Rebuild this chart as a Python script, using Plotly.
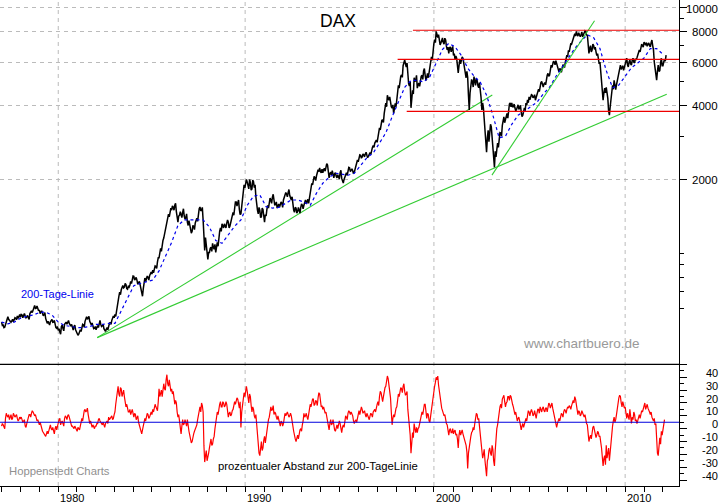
import numpy as np
import plotly.graph_objects as go

years = list(range(1977, 2013))

# DAX close, 12 readings per chart year
dax_rows = [
 [526,512,502,526,553,535,526,540,535,545,557,553],
 [550,562,560,558,553,548,570,585,592,615,600,595],
 [590,578,572,565,545,520,522,528,540,526,510,497],
 [487,480,505,495,515,526,526,520,507,497,505,490],
 [478,470,490,507,512,530,553,545,530,512,505,497],
 [490,510,526,515,508,495,482,500,510,525,535,557],
 [565,590,650,696,712,742,730,748,716,730,770,790],
 [808,790,778,760,745,696,720,795,785,800,812,840],
 [855,870,885,925,960,1050,1095,1155,1245,1340,1445,1470],
 [1500,1540,1570,1480,1340,1430,1440,1470,1420,1400,1340,1360],
 [1290,1230,1290,1330,1390,1470,1545,1500,1365,1030,1080,945],
 [1010,1060,1100,1040,1010,1110,1165,1270,1320,1270,1300,1330],
 [1340,1290,1370,1470,1570,1620,1610,1510,1450,1650,1900,1935],
 [1950,1830,1940,1830,1960,1900,1540,1450,1500,1410,1510,1340],
 [1420,1570,1610,1650,1695,1650,1590,1530,1590,1570,1600,1650],
 [1710,1740,1770,1720,1650,1570,1470,1530,1480,1500,1540,1570],
 [1570,1650,1620,1600,1730,1930,1990,2030,2070,2190,2230,2130],
 [2130,2220,2270,2290,2030,2140,2170,2030,2130,2030,2060,2130],
 [2020,1935,2040,2130,2180,2230,2180,2170,2140,2290,2400,2460],
 [2510,2470,2520,2540,2510,2490,2570,2640,2750,2810,2890,2970],
 [3240,3390,3490,3710,4090,4400,4200,4080,3900,3710,4080,4330],
 [4830,5100,5320,5800,6120,5730,5100,4800,3910,4610,5180,5060],
 [4700,4930,5060,5300,5520,5300,5200,5180,5700,6300,6800,7400],
 [8000,7550,7240,7170,7520,7100,7380,6720,6510,6920,6720,6380],
 [6120,6220,5420,6120,6050,6220,5580,5180,5200,3830,4830,5000],
 [5240,4820,5060,4720,4660,3830,3900,3320,2580,3170,3040,3270],
 [2850,2240,2470,2810,2950,3090,3320,3590,3500,3710,3920,4090],
 [4090,3950,3910,3840,4020,3910,3760,3650,3910,4090,4210,4330],
 [4300,4400,4330,4200,4400,4650,4850,5000,4750,4950,5180,5400],
 [5300,5830,5950,6000,6080,5750,5470,5600,5650,5800,6000,6400],
 [6700,6950,7100,7520,7820,8000,7650,7800,7750,7600,7870,8000],
 [7750,6510,7000,6720,7000,6900,6380,6150,6000,5060,4200,4700],
 [4740,4270,3650,4200,4830,5060,4630,5060,5540,5830,5670,5550],
 [5930,6220,5730,6120,5830,6220,5950,6120,6380,6720,6920,7000],
 [7240,7030,6950,7170,6920,7370,6720,5670,5060,5830,5540,6220],
 [5800,6150,6400],
]
# the swing reading half a month later, for the thick, jagged band of the close
dax_swing = [
 [510,500,515,535,540,525,532,528,548,538,545,565],
 [565,548,570,548,560,540,582,575,605,598,612,585],
 [570,585,558,575,530,530,512,538,525,535,500,505],
 [495,470,512,485,522,516,534,510,515,488,512,480],
 [465,480,482,515,502,540,540,555,520,522,495,505],
 [500,500,535,505,515,485,492,490,520,515,545,548],
 [555,620,670,680,735,725,755,720,735,745,755,810],
 [780,800,750,770,710,670,770,770,810,780,835,825],
 [835,890,870,960,1000,1020,1130,1200,1290,1400,1410,1530],
 [1560,1500,1600,1360,1420,1480,1400,1520,1380,1450,1300,1300],
 [1210,1300,1250,1380,1350,1520,1490,1540,1150,1160,950,1010],
 [1050,1020,1060,1090,1060,1070,1230,1230,1280,1320,1270,1370],
 [1270,1340,1430,1430,1620,1560,1650,1440,1560,1780,1850,2000],
 [1860,2000,1810,1990,1850,1700,1500,1540,1400,1530,1390,1440],
 [1510,1530,1680,1600,1740,1570,1620,1570,1540,1620,1540,1700],
 [1770,1700,1820,1660,1700,1500,1540,1460,1540,1460,1590,1520],
 [1630,1590,1660,1670,1830,1900,2060,1980,2130,2150,2150,2200],
 [2190,2160,2320,2150,2110,2090,2100,2110,2060,2090,2010,2180],
 [1960,2000,2090,2080,2240,2150,2210,2110,2210,2340,2360,2520],
 [2440,2540,2470,2580,2450,2550,2530,2700,2700,2880,2830,3100],
 [3180,3480,3410,3900,3950,4280,4330,3950,4020,3850,3950,4550],
 [4700,5250,5200,6000,5900,5950,4900,5000,4350,4450,5000,5300],
 [4850,4780,5250,5100,5650,5050,5400,5450,5950,6100,7100,7200],
 [7650,7750,7050,7400,7200,7500,6950,6900,6850,6600,6950,6500],
 [6350,5900,5800,5900,6300,5900,5350,5500,4400,4500,5100,4750],
 [5000,5150,4800,4950,4300,4100,3500,3000,2950,2850,3350,3000],
 [2500,2600,2640,2700,3100,3000,3450,3400,3650,3550,4050,3950],
 [3950,4050,3800,3960,3850,4000,3600,3800,3800,4000,4100,4220],
 [4420,4290,4420,4300,4550,4550,4950,4850,4900,4850,5300,5250],
 [5650,5700,6050,5850,5900,5550,5650,5450,5850,5700,6250,6300],
 [6600,7150,7300,7700,7650,7750,7900,7600,7950,7750,8050,7700],
 [7000,6800,6600,7100,6750,6600,6500,5900,5500,4500,4500,4500],
 [4500,3800,3950,4500,4650,4850,4850,5300,5700,5600,5800,5750],
 [6100,5850,6000,5900,6100,6000,6200,6250,6550,6600,7100,6900],
 [7100,7200,7100,7000,7200,7000,6000,5500,5500,5500,5950,5800],
 [6000,6050],
]

# 200-day line, 3 readings per chart year
ma_values = [526,518,526, 545,556,562, 575,578,562, 526,510,505, 500,500,505, 515,515,520,
             520,585,660, 740,755,765, 780,850,965, 1110,1300,1370, 1370,1370,1370, 1280,1130,1100,
             1190,1290,1370, 1570,1710,1730, 1550,1530,1540, 1600,1650,1650, 1620,1570,1760,
             1930,2040,2120, 2100,2080,2120, 2280,2450,2560, 2810,3090,3590, 4130,4740,5050,
             5060,4980,5240, 5950,6750,7150, 6920,6380,5670, 5260,4970,4400, 3650,2950,3000,
             3350,3650,3790, 3940,4120,4450, 4740,5240,5690, 6250,6810,7300, 7740,7530,6810,
             5540,4720,4840, 5250,5690,5950, 6230,6810,6810, 6450]

# percentage distance from the 200-day line, 12 readings per chart year
gap_rows = [
 [-3,-2,-5,7,4,2,6,3,6,5,3,2],
 [3,2,1,-3,-1,4,6,7,8,5,4,2],
 [-2,-3,-7,-9,-11,-7,-6,-2,-6,-7,-5,-6],
 [-1,3,0,-1,3,4,5,4,-1,-3,-5,-4],
 [-7,-5,-3,3,6,10,9,6,-1,-2,-2,-5],
 [-3,-1,3,0,-2,-2,-1,1,4,3,5,3],
 [8,19,28,20,26,22,20,12,10,8,6,10],
 [4,6,3,0,-3,-9,-3,3,5,6,4,8],
 [10,12,12,9,26,22,20,30,25,37,28,27],
 [26,24,14,15,4,-1,-9,2,-1,0,2,-7],
 [-13,-15,-9,-5,-2,5,12,15,8,-31,-22,-28],
 [-20,-13,-17,-11,-1,8,11,16,12,15,13,14],
 [4,8,6,10,16,17,18,11,-4,13,23,24],
 [24,15,20,8,10,3,-2,-20,-26,-15,-20,-11],
 [-11,-1,4,12,10,6,7,2,3,-3,0,-1],
 [7,6,6,5,5,-3,-11,-15,-10,-8,-5,-2],
 [7,5,4,6,14,15,18,14,16,19,22,12],
 [10,9,8,2,-6,2,-1,-3,-7,-2,-2,-1],
 [-8,-2,2,4,7,8,8,5,-1,2,3,9],
 [11,10,8,6,7,3,5,6,8,10,12,16],
 [20,23,16,24,28,36,30,19,-2,6,8,12],
 [22,24,26,28,24,22,10,-3,-24,-8,-1,-8],
 [-8,-4,2,8,12,14,3,6,0,10,22,28],
 [35,36,24,14,9,5,2,-2,-10,-5,-8,-9],
 [-6,-9,-20,-6,-8,-9,-13,-18,-36,-18,-11,-7],
 [-6,4,6,3,-10,-22,-25,-30,-42,-28,-20,-26],
 [-21,-34,-10,-2,10,14,18,21,12,16,20,21],
 [16,12,6,5,3,1,-6,-1,-1,3,6,8],
 [8,8,6,6,7,10,12,8,12,8,11,13],
 [14,13,11,5,-2,-1,3,4,6,8,9,10],
 [11,12,13,17,20,14,6,8,6,7,4,2],
 [-2,-15,-10,-8,-3,-9,-10,-8,-11,-20,-34,-26],
 [-18,-24,-30,-12,-3,4,2,12,19,20,12,14],
 [12,3,5,10,-1,2,6,2,1,6,5,8],
 [13,10,14,10,6,4,1,-2,-20,-26,-12,-7],
 [-6,2],
]
gap_swing = [
 [-1,-4,3,5,6,4,2,7,4,6,1,4],
 [4,0,2,-4,2,6,4,9,6,6,1,-1],
 [0,-5,-8,-11,-9,-9,-3,-5,-4,-9,-3,-3],
 [2,-2,1,-3,5,2,6,2,-3,-5,-3,-6],
 [-4,-6,0,1,9,8,11,2,1,-4,-4,-3],
 [-1,2,1,-2,0,-4,1,-1,2,5,2,6],
 [14,23,22,27,20,25,14,14,8,10,8,7],
 [7,2,5,-2,-6,-6,0,1,7,3,7,6],
 [8,14,10,16,20,25,24,26,33,30,33,24],
 [22,18,17,8,6,-5,-3,-2,2,-3,-4,-10],
 [-16,-11,-7,-3,2,9,8,13,-18,-26,-30,-24],
 [-15,-18,-13,-5,5,6,14,12,16,12,16,10],
 [7,5,9,13,14,19,15,16,8,19,20,28],
 [19,22,13,12,5,6,-10,-24,-18,-22,-14,-16],
 [-5,2,8,9,13,8,4,5,-1,1,-3,3],
 [5,8,4,7,2,-7,-13,-11,-13,-6,-7,1],
 [4,7,2,11,12,18,13,17,13,23,16,13],
 [12,7,5,-2,-1,-2,2,-6,-3,-5,1,-4],
 [-4,-4,5,2,9,6,6,1,1,0,6,6],
 [12,7,9,4,5,2,7,4,9,8,14,13],
 [24,18,20,27,32,34,24,8,3,4,11,17],
 [20,27,23,30,21,24,3,-10,-14,-12,-5,-4],
 [-5,-1,5,6,14,9,7,1,5,15,26,31],
 [33,29,18,11,6,6,-1,-6,-6,-8,-5,-7],
 [-10,-13,-10,-10,-6,-11,-16,-23,-24,-14,-8,-4],
 [-1,7,2,-3,-17,-28,-21,-35,-30,-22,-24,-18],
 [-30,-22,-5,4,12,11,20,16,15,20,17,20],
 [14,9,8,1,4,-3,-3,-4,2,1,9,5],
 [10,5,9,3,10,7,9,11,9,11,8,15],
 [11,15,8,0,-4,2,1,7,4,10,7,12],
 [13,10,15,15,18,10,9,5,9,4,6,-1],
 [-8,-12,-13,-4,-7,-12,-7,-11,-15,-27,-28,-33],
 [-28,-20,-22,-6,1,0,6,17,21,15,16,11],
 [8,7,2,4,4,8,1,-1,4,3,9,11],
 [15,12,11,8,8,2,3,-1,-24,-18,-17,-10],
 [-4],
]

# trend lines and support levels as (years, index levels)
trend_a = ([1982.06, 2002.97], [455, 4405])
trend_b = ([1982.06, 2012.2], [455, 4435])
trend_c = ([2002.95, 2008.38], [2082, 8836])
level_top = ([1998.77, 2012.85], [8078, 8078])
level_mid = ([1997.96, 2012.85], [6155, 6155])
level_low = ([1998.44, 2012.85], [3782, 3782])

decade_pos = [1980, 1989.89, 1999.88, 2010.0]
decade_txt = ["1980", "1990", "2000", "2010"]
price_ticks = [2000, 4000, 6000, 8000, 10000]
price_minor = [600, 700, 800, 900, 1000, 3000, 5000, 7000, 9000]
gap_labels = [40, 30, 20, 10, 0, -10, -20, -30, -40]
gap_long = [45, 35, 25, 15, 5, -5, -15, -25, -35, -45]
gap_short = [40, 30, 20, 10, 0, -10, -20, -30, -40]


def expand(rows, swing):
    xs, ys = [], []
    for yr, row, alt in zip(years, rows, swing):
        for i, v in enumerate(row):
            xs.append(yr + i / 12)
            ys.append(v)
            if i < len(alt):
                xs.append(yr + i / 12 + 1 / 24)
                ys.append(alt[i])
    return xs, ys


fig = go.Figure()
XR = [1976.917, 2012.85]
dx, dy = expand(dax_rows, dax_swing)
gx, gy = expand(gap_rows, gap_swing)
mx = [1977 + i / 3 for i in range(len(ma_values))]
year_marks = [float(v) for v in np.interp(years, [1977, 1980, 1990, 2000, 2010, 2012],
                                          [1977, 1980, 1989.89, 1999.88, 2010, 2012])]

GREEN = dict(color="#33cc33", width=1.1)
RED = dict(color="#ee0000", width=1.1)
fig.add_trace(go.Scatter(x=trend_b[0], y=trend_b[1], mode="lines", line=GREEN, yaxis="y"))
fig.add_trace(go.Scatter(x=trend_a[0], y=trend_a[1], mode="lines", line=GREEN, yaxis="y"))
fig.add_trace(go.Scatter(x=dx, y=dy, mode="lines", line=dict(color="#000000", width=1.5), yaxis="y"))
fig.add_trace(go.Scatter(x=mx, y=ma_values, mode="lines", line=dict(color="#0000ee", width=1.2, dash="3px,3px"), yaxis="y"))
fig.add_trace(go.Scatter(x=trend_c[0], y=trend_c[1], mode="lines", line=GREEN, yaxis="y"))
for lv in (level_top, level_mid, level_low):
    fig.add_trace(go.Scatter(x=lv[0], y=lv[1], mode="lines", line=RED, yaxis="y"))
fig.add_trace(go.Scatter(x=gx, y=gy, mode="lines", line=dict(color="#ff0000", width=1.2), xaxis="x2", yaxis="y2"))
fig.add_trace(go.Scatter(x=XR, y=[0, 0], mode="lines", line=dict(color="#0000dd", width=1.2), xaxis="x2", yaxis="y2"))

GRID = "#bbbbbb"
shapes = [dict(type="line", xref="paper", yref="paper", x0=0, x1=1, y0=0.2504, y1=0.2504,
               line=dict(color="black", width=1.2))]
for p in decade_pos:
    shapes.append(dict(type="line", xref="x", yref="paper", x0=p, x1=p, y0=0, y1=1, layer="below",
                       line=dict(color=GRID, width=1, dash="4px,4px")))

fig.update_layout(
    width=723, height=503, showlegend=False, paper_bgcolor="white", plot_bgcolor="white",
    margin=dict(l=0, r=43.5, t=0, b=17),
    font=dict(family="Liberation Sans, Arial, sans-serif", size=11, color="black"),
    xaxis=dict(domain=[0, 1], range=XR, anchor="y", ticks="", showticklabels=False,
               showgrid=False, zeroline=False, showline=False),
    yaxis=dict(domain=[0.2504, 1], type="log", range=[2.5496, 4.0304], side="right", anchor="x",
               tickvals=price_ticks, ticktext=[""] * 5, ticks="outside", ticklen=7, tickcolor="black",
               minor=dict(tickvals=price_minor, ticks="outside", ticklen=4, tickcolor="black", showgrid=False),
               showgrid=True, gridcolor=GRID, griddash="4px,4px", gridwidth=1, zeroline=False,
               showline=True, linecolor="black", linewidth=1, mirror=False),
    xaxis2=dict(domain=[0, 1], range=XR, anchor="y2", tickvals=decade_pos, ticktext=[""] * 4, ticks="outside",
                ticklen=17, tickcolor="black",
                minor=dict(tickvals=year_marks, ticks="outside", ticklen=5, tickcolor="black", showgrid=False),
                showgrid=False, zeroline=False, showline=True, linecolor="black"),
    yaxis2=dict(domain=[0, 0.2504], range=[-49.6, 45.1], side="right", anchor="x2",
                tickvals=gap_long, ticktext=[""] * 10, ticks="outside", ticklen=7, tickcolor="black",
                minor=dict(tickvals=gap_short, ticks="outside", ticklen=4, tickcolor="black", showgrid=False),
                showgrid=False, zeroline=False, showline=True, linecolor="black"),
    shapes=shapes,
)

right_edge = 720 / 679.5
for v in price_ticks:
    fig.add_annotation(x=right_edge, xref="paper", xanchor="right", y=np.log10(v), yref="y", text=str(v),
                       showarrow=False, font=dict(size=11.5), borderpad=0, yshift=-2 if v == 10000 else -0.5)
for v in gap_labels:
    fig.add_annotation(x=right_edge, xref="paper", xanchor="right", y=v, yref="y2", text=str(v),
                       showarrow=False, font=dict(size=11), borderpad=0, yshift=-2)
for p, t in zip(decade_pos, decade_txt):
    fig.add_annotation(x=p, xref="x2", xanchor="left", y=0, yref="paper", yanchor="top", yshift=-4.7, text=t,
                       showarrow=False, font=dict(size=11), borderpad=0, xshift=1)


def txt(xpx, ypx, s, color, size, anchor="left"):
    fig.add_annotation(x=xpx / 679.5, xref="paper", xanchor=anchor, y=(486 - ypx) / 486, yref="paper", yanchor="middle",
                       text=s, showarrow=False, font=dict(size=size, color=color), borderpad=0)


txt(338, 20.5, "DAX", "black", 17.5, "center")
txt(20.5, 294, "200-Tage-Linie", "#0000ee", 11)
txt(522, 343, "www.chartbuero.de", "#999999", 13.5)
txt(8, 471, "Hoppenstedt Charts", "#909090", 11.3)
txt(217, 466, "prozentualer Abstand zur 200-TageLinie", "black", 11.3)

fig.write_html("out.html", config=dict(displayModeBar=False),
               post_script="document.body.style.margin='0';")
